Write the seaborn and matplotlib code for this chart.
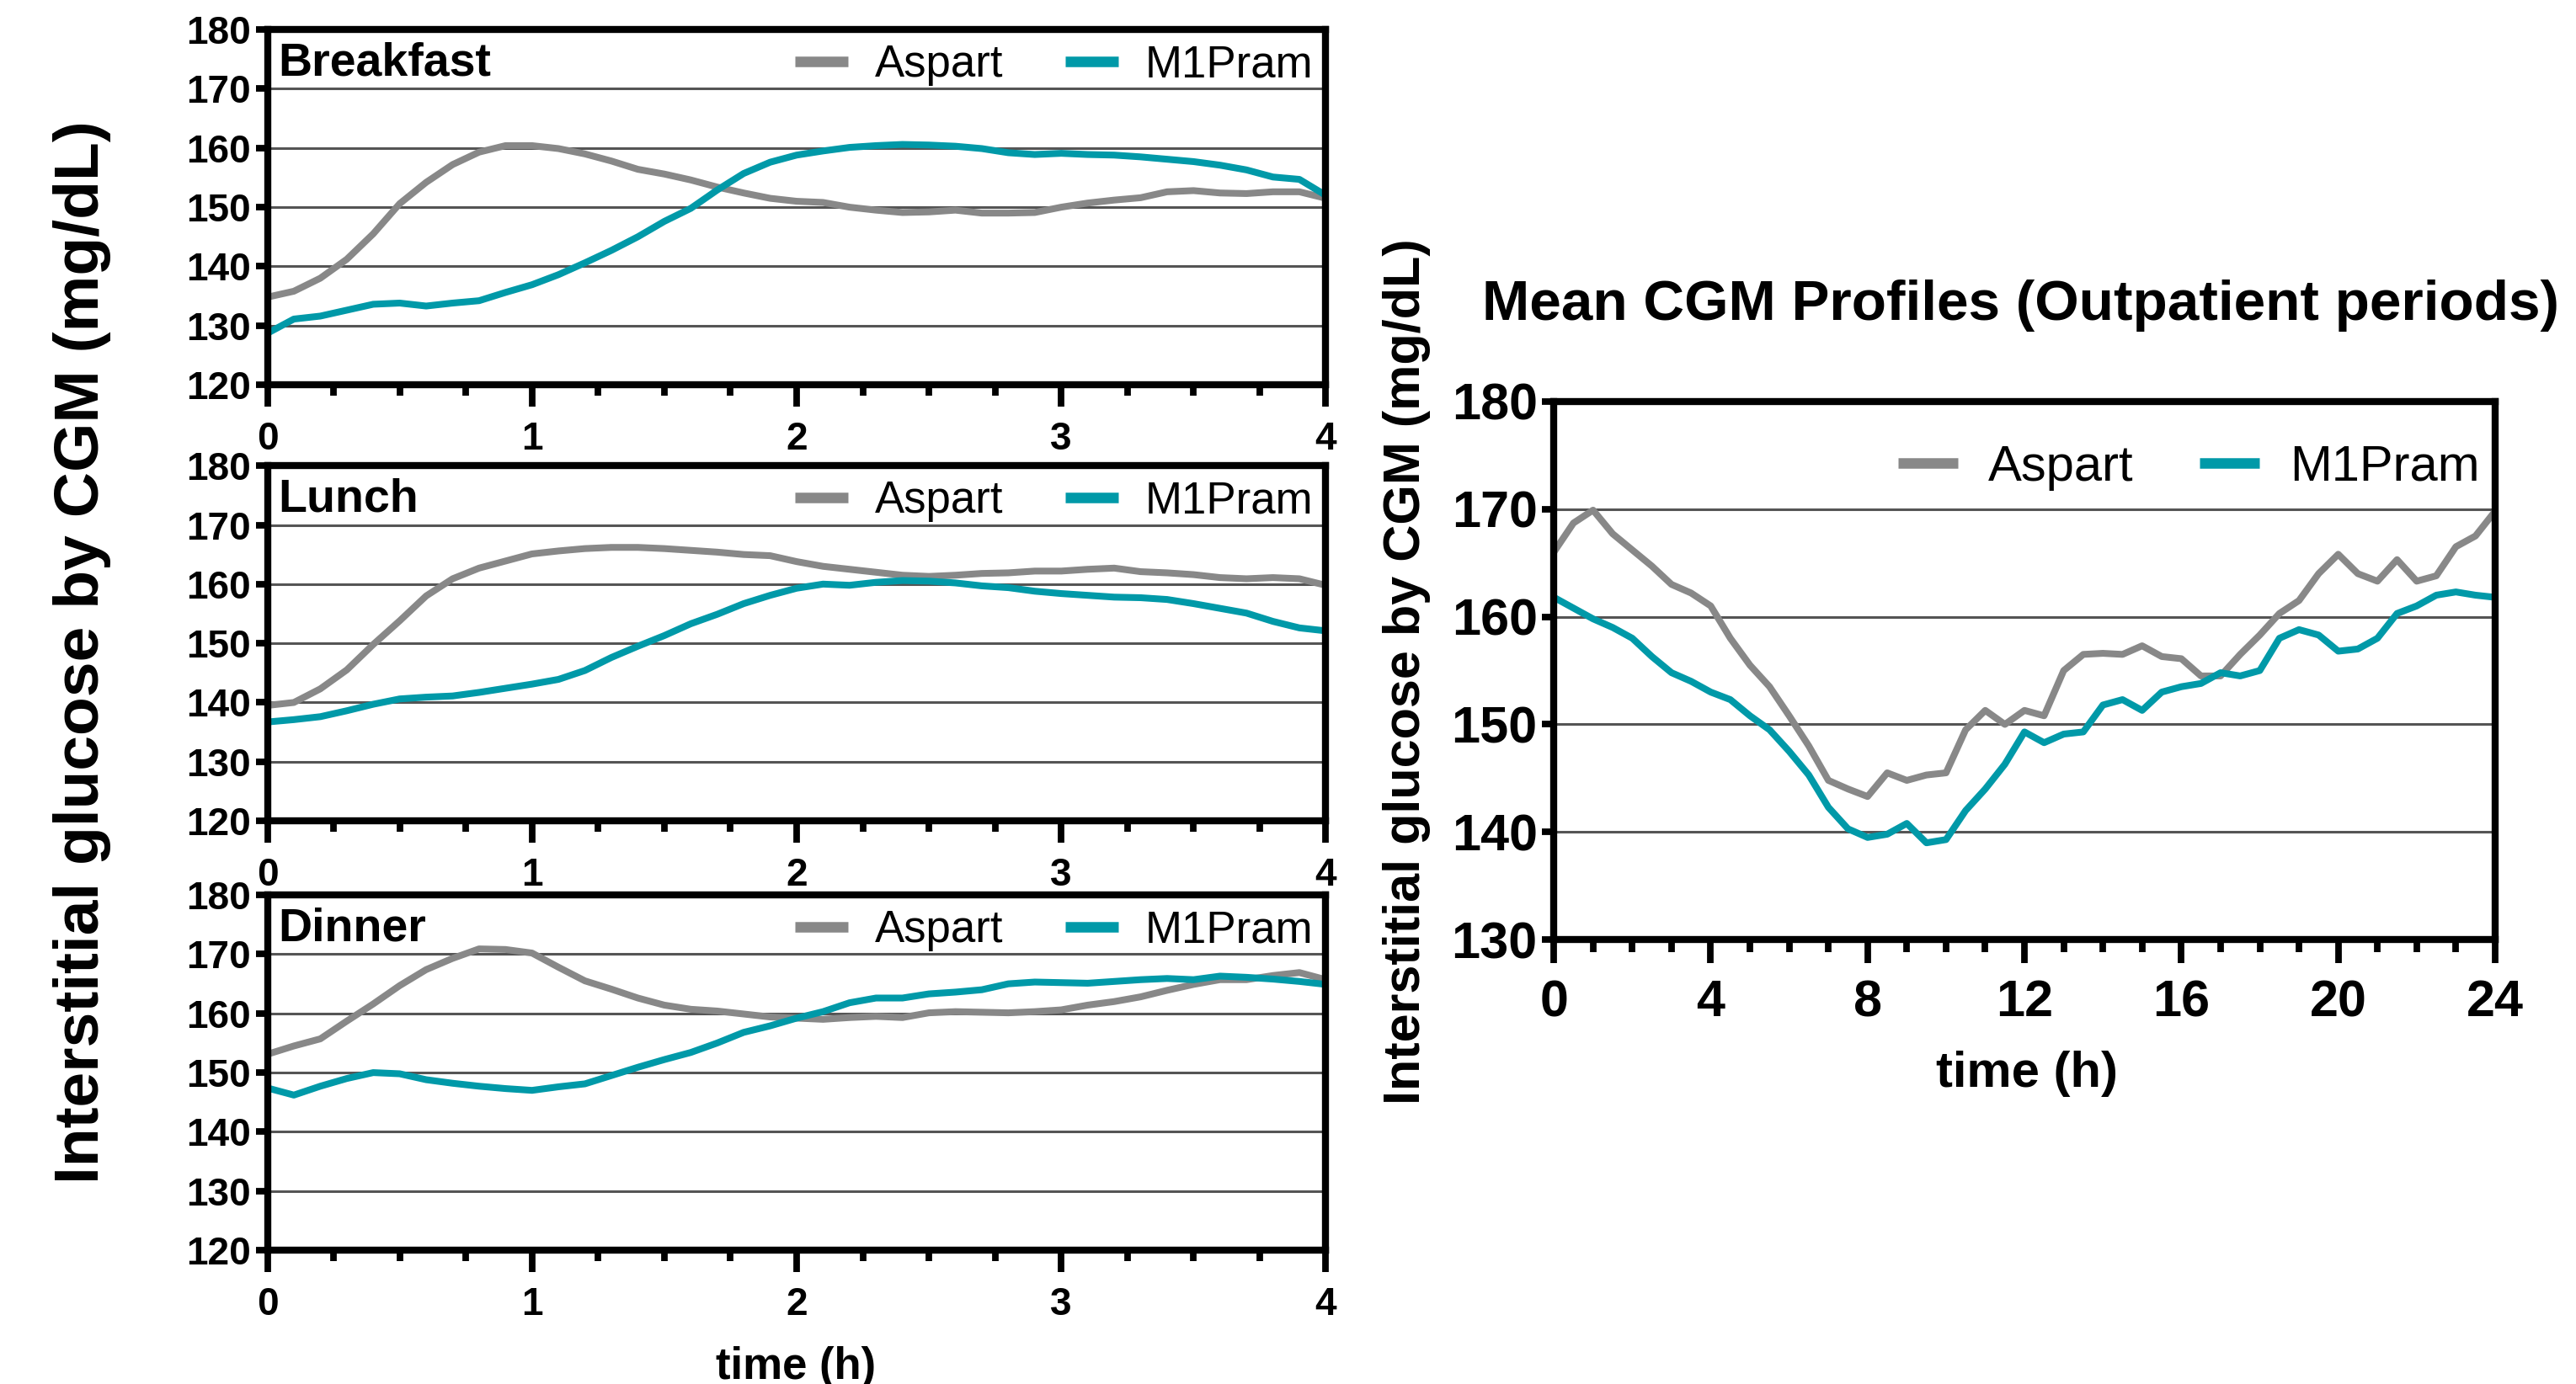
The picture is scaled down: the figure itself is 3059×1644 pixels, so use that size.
import numpy as np
import pandas as pd
import matplotlib.pyplot as plt
from matplotlib.lines import Line2D
from matplotlib.ticker import MultipleLocator
import seaborn as sns

# %%
# values (mg/dL)
meal_t = np.round(np.arange(0, 4.01, 0.1), 1)

breakfast_aspart = [134.8, 135.8, 138.0, 141.2, 145.5, 150.6, 154.2, 157.2, 159.3, 160.4,
                    160.4, 159.9, 159.0, 157.8, 156.4, 155.6, 154.6, 153.4, 152.4, 151.5,
                    151.0, 150.8, 150.0, 149.5, 149.1, 149.2, 149.5, 149.0, 149.0, 149.1,
                    150.0, 150.7, 151.2, 151.6, 152.6, 152.8, 152.4, 152.3, 152.6, 152.6, 151.5]
breakfast_m1pram = [128.7, 131.1, 131.6, 132.6, 133.6, 133.8, 133.3, 133.8, 134.2, 135.6,
                    136.9, 138.6, 140.6, 142.7, 145.0, 147.6, 149.8, 152.9, 155.7, 157.6,
                    158.8, 159.5, 160.1, 160.4, 160.6, 160.5, 160.3, 159.9, 159.2, 158.9,
                    159.1, 158.9, 158.8, 158.5, 158.1, 157.7, 157.1, 156.3, 155.1, 154.7, 152.0]

lunch_aspart = [139.5, 140.0, 142.3, 145.5, 149.8, 153.8, 158.0, 160.9, 162.7, 163.9,
                165.1, 165.6, 166.0, 166.2, 166.2, 166.0, 165.7, 165.4, 165.0, 164.8,
                163.8, 163.0, 162.5, 162.0, 161.5, 161.3, 161.5, 161.8, 161.9, 162.2,
                162.2, 162.5, 162.7, 162.1, 161.9, 161.6, 161.1, 160.9, 161.1, 160.9, 159.8]
lunch_m1pram = [136.7, 137.1, 137.6, 138.6, 139.7, 140.6, 140.9, 141.1, 141.7, 142.4,
                143.1, 143.9, 145.4, 147.6, 149.5, 151.3, 153.3, 154.9, 156.7, 158.1,
                159.3, 160.0, 159.8, 160.3, 160.6, 160.5, 160.2, 159.7, 159.4, 158.8,
                158.4, 158.1, 157.8, 157.7, 157.4, 156.7, 155.9, 155.1, 153.7, 152.6, 152.1]

dinner_aspart = [153.1, 154.5, 155.7, 158.7, 161.6, 164.7, 167.4, 169.3, 170.9, 170.8,
                 170.2, 167.8, 165.5, 164.1, 162.6, 161.4, 160.7, 160.4, 159.9, 159.4,
                 159.2, 159.0, 159.3, 159.5, 159.3, 160.1, 160.3, 160.2, 160.1, 160.3,
                 160.6, 161.4, 162.0, 162.8, 163.9, 164.9, 165.7, 165.7, 166.4, 166.9, 165.7]
dinner_m1pram = [147.4, 146.2, 147.7, 149.0, 150.0, 149.8, 148.8, 148.2, 147.7, 147.3,
                 147.0, 147.6, 148.1, 149.5, 150.9, 152.2, 153.4, 155.0, 156.8, 157.9,
                 159.2, 160.3, 161.8, 162.6, 162.6, 163.3, 163.6, 164.0, 165.0, 165.3,
                 165.2, 165.1, 165.4, 165.7, 165.9, 165.7, 166.3, 166.1, 165.8, 165.4, 164.9]

day_t = np.arange(0, 24.01, 0.5)
day_aspart = [166.0, 168.7, 169.9, 167.7, 166.2, 164.7, 163.0, 162.2, 161.0, 158.0,
              155.5, 153.5, 150.8, 148.0, 144.8, 144.0, 143.3, 145.5, 144.8, 145.3,
              145.5, 149.5, 151.3, 150.0, 151.3, 150.8, 155.0, 156.5, 156.6, 156.5,
              157.3, 156.3, 156.1, 154.5, 154.5, 156.5, 158.3, 160.3, 161.5, 164.0,
              165.8, 164.0, 163.3, 165.3, 163.3, 163.8, 166.5, 167.5, 169.8]
day_m1pram = [161.8, 160.8, 159.8, 159.0, 158.0, 156.3, 154.8, 154.0, 153.0, 152.3,
              150.8, 149.5, 147.5, 145.3, 142.3, 140.3, 139.5, 139.8, 140.8, 139.0,
              139.3, 142.0, 144.0, 146.3, 149.3, 148.3, 149.1, 149.3, 151.8, 152.3,
              151.3, 153.0, 153.5, 153.8, 154.8, 154.5, 155.0, 158.0, 158.8, 158.3,
              156.8, 157.0, 158.0, 160.3, 161.0, 162.0, 162.3, 162.0, 161.8]

meals = ["Breakfast", "Lunch", "Dinner"]
meal_data = {"Breakfast": (breakfast_aspart, breakfast_m1pram),
             "Lunch": (lunch_aspart, lunch_m1pram),
             "Dinner": (dinner_aspart, dinner_m1pram)}
insulins = ["Aspart", "M1Pram"]
palette = {"Aspart": "#888888", "M1Pram": "#0099A8"}


def to_long(t, aspart, m1pram):
    return pd.concat([pd.DataFrame({"time": t, "glucose": aspart, "insulin": "Aspart"}),
                      pd.DataFrame({"time": t, "glucose": m1pram, "insulin": "M1Pram"})])


# %%
sns.set_theme(style="white")
plt.rcParams["font.family"] = ["Liberation Sans", "DejaVu Sans"]
plt.rcParams["text.color"] = "black"
plt.rcParams["xtick.color"] = "black"
plt.rcParams["ytick.color"] = "black"
plt.rcParams["axes.labelcolor"] = "black"

fig = plt.figure(figsize=(15.295, 8.22), dpi=200)

handles = [Line2D([], [], color=palette[k], lw=4.5, solid_capstyle="butt") for k in insulins]


def style_axes(ax, tick_size, maj_len, min_len, xpad):
    for s in ax.spines.values():
        s.set_linewidth(3)
        s.set_color("black")
    ax.yaxis.grid(True, color="#555555", lw=1.1)
    ax.set_axisbelow(True)
    ax.tick_params(axis="x", which="major", direction="out", length=maj_len, width=2.8,
                   pad=xpad, labelsize=tick_size, bottom=True, colors="black")
    ax.tick_params(axis="x", which="minor", direction="out", length=min_len, width=2.8,
                   bottom=True, colors="black")
    ax.tick_params(axis="y", which="major", direction="out", length=5, width=2.8,
                   pad=2, labelsize=tick_size, left=True, colors="black")
    for lab in ax.get_xticklabels() + ax.get_yticklabels():
        lab.set_fontweight("bold")
    ax.set_xlabel("")
    ax.set_ylabel("")


left, width = 0.1038, 0.4109
bottoms = [0.722, 0.4069, 0.0967]
for meal, b in zip(meals, bottoms):
    ax = fig.add_axes([left, b, width, 0.2566])
    df = to_long(meal_t, *meal_data[meal])
    sns.lineplot(data=df, x="time", y="glucose", hue="insulin", palette=palette,
                 lw=2.9, ax=ax, legend=False)
    ax.set_xlim(0, 4)
    ax.set_ylim(120, 180)
    ax.set_yticks(range(120, 181, 10))
    ax.set_xticks(range(0, 5))
    ax.xaxis.set_minor_locator(MultipleLocator(0.25))
    style_axes(ax, 16.5, 9.5, 4.5, 6)
    ax.text(0.01, 0.905, meal, transform=ax.transAxes, fontsize=20, fontweight="bold",
            va="center", ha="left")
    ax.legend(handles=handles, labels=insulins, loc="center right", bbox_to_anchor=(1.005, 0.9),
              ncol=2, frameon=False, fontsize=19, handlelength=1.2, handletextpad=0.6,
              columnspacing=1.4, borderaxespad=0)

fig.text(0.309, 0.012, "time (h)", ha="center", va="center", fontsize=19, fontweight="bold")
fig.text(0.032, 0.529, "Interstitial glucose by CGM (mg/dL)", rotation=90, ha="center",
         va="center", fontsize=27, fontweight="bold")

# %%
ax = fig.add_axes([0.6032, 0.321, 0.3654, 0.389])
df = to_long(day_t, day_aspart, day_m1pram)
sns.lineplot(data=df, x="time", y="glucose", hue="insulin", palette=palette,
             lw=2.9, ax=ax, legend=False)
ax.set_xlim(0, 24)
ax.set_ylim(130, 180)
ax.set_yticks(range(130, 181, 10))
ax.set_xticks(range(0, 25, 4))
ax.xaxis.set_minor_locator(MultipleLocator(1))
style_axes(ax, 22, 10, 5.5, 7)
ax.legend(handles=handles, labels=insulins, loc="center right", bbox_to_anchor=(1.005, 0.877),
          ncol=2, frameon=False, fontsize=21.5, handlelength=1.2, handletextpad=0.6,
          columnspacing=1.3, borderaxespad=0)

fig.text(0.7845, 0.779, "Mean CGM Profiles (Outpatient periods)", ha="center", va="center",
         fontsize=24.3, fontweight="bold")
fig.text(0.787, 0.2244, "time (h)", ha="center", va="center", fontsize=21.5, fontweight="bold")
fig.text(0.546, 0.515, "Interstitial glucose by CGM (mg/dL)", rotation=90, ha="center",
         va="center", fontsize=22, fontweight="bold")

fig.savefig("out.png", dpi=200)
